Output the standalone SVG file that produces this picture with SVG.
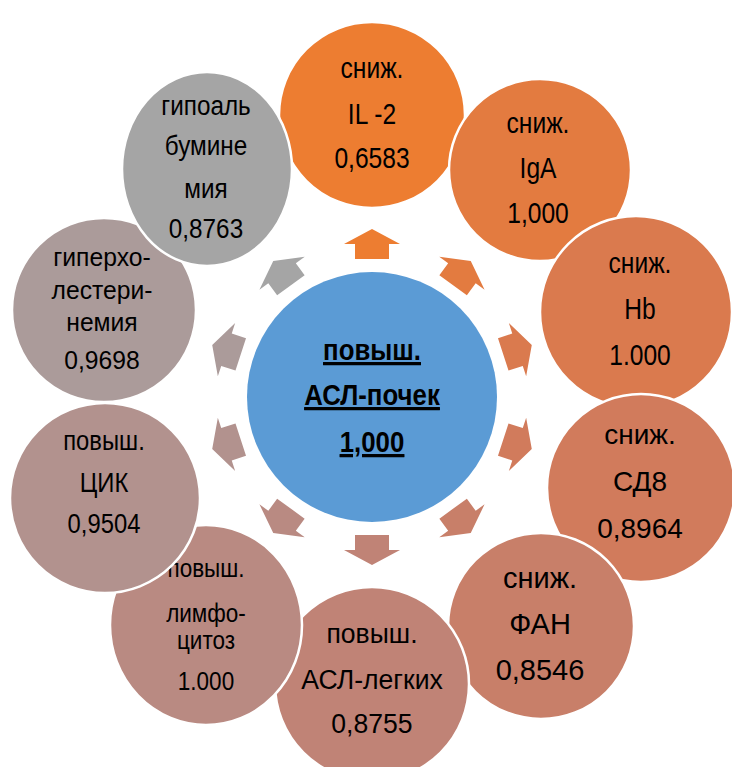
<svg xmlns="http://www.w3.org/2000/svg" width="732" height="767" viewBox="0 0 732 767">
<defs>
<polygon id="arr" points="510,380 525,380 525,369 540,397 525,425 525,414 510,414"/>
</defs>
<style>
.c{stroke:#fff;stroke-width:2.5}
text{font-family:"Liberation Sans",Arial,sans-serif;fill:#000;text-anchor:middle}
.b{font-weight:bold;text-decoration:underline}
</style>
<rect width="732" height="767" fill="#fff"/>
<g id="connectors">
<use href="#arr" transform="rotate(-90 372 397)" fill="#ED7D31"/>
<use href="#arr" transform="rotate(-54 372 397)" fill="#E37B40"/>
<use href="#arr" transform="rotate(-18 372 397)" fill="#DA7A4E"/>
<use href="#arr" transform="rotate(18 372 397)" fill="#D17B5C"/>
<use href="#arr" transform="rotate(54 372 397)" fill="#C87F69"/>
<use href="#arr" transform="rotate(90 372 397)" fill="#C08376"/>
<use href="#arr" transform="rotate(126 372 397)" fill="#B98A82"/>
<use href="#arr" transform="rotate(162 372 397)" fill="#B2928E"/>
<use href="#arr" transform="rotate(198 372 397)" fill="#AB9B9A"/>
<use href="#arr" transform="rotate(234 372 397)" fill="#A5A5A5"/>
</g>
<g id="center">
<circle cx="372" cy="397" r="125" fill="#5B9BD5"/>
<g transform="translate(372 0) scale(0.86 1)" font-size="30" class="b">
<text x="0" y="360" class="b">повыш.</text>
<text x="0" y="405" class="b">АСЛ-почек</text>
<text x="0" y="452" class="b">1,000</text>
</g>
</g>
<g id="n1">
<circle class="c" cx="372" cy="115" r="93" fill="#ED7D31"/>
<g transform="translate(372 0) scale(0.82 1)" font-size="30">
<text x="0" y="78">сниж.</text><text x="0" y="124">IL -2</text><text x="0" y="168">0,6583</text>
</g>
</g>
<g id="n2">
<circle class="c" cx="540" cy="170" r="91" fill="#E37B40"/>
<g transform="translate(538 0) scale(0.82 1)" font-size="30">
<text x="0" y="133">сниж.</text><text x="0" y="178">IgA</text><text x="0" y="223">1,000</text>
</g>
</g>
<g id="n3">
<circle class="c" cx="636" cy="312" r="96" fill="#DA7A4E"/>
<g transform="translate(640 0) scale(0.82 1)" font-size="30">
<text x="0" y="273">сниж.</text><text x="0" y="319">Hb</text><text x="0" y="365">1.000</text>
</g>
</g>
<g id="n4">
<circle class="c" cx="641" cy="488" r="94" fill="#D17B5C"/>
<g transform="translate(640 0)" font-size="28">
<text x="0" y="444">сниж.</text><text x="0" y="491">СД8</text><text x="0" y="538">0,8964</text>
</g>
</g>
<g id="n5">
<circle class="c" cx="541" cy="626" r="93" fill="#C87F69"/>
<g transform="translate(540 0)" font-size="29">
<text x="0" y="588">сниж.</text><text x="0" y="634">ФАН</text><text x="0" y="680">0,8546</text>
</g>
</g>
<g id="n6">
<circle class="c" cx="372" cy="684" r="97" fill="#C08376"/>
<g transform="translate(372 0) scale(0.95 1)" font-size="28">
<text x="0" y="643">повыш.</text><text x="0" y="689">АСЛ-легких</text><text x="0" y="733">0,8755</text>
</g>
</g>
<g id="n7">
<ellipse class="c" cx="206" cy="625" rx="96" ry="100" fill="#B98A82"/>
<g transform="translate(206 0) scale(0.9 1)" font-size="25">
<text x="0" y="577">повыш.</text><text x="0" y="622">лимфо-</text><text x="0" y="649">цитоз</text><text x="0" y="690">1.000</text>
</g>
</g>
<g id="n8">
<circle class="c" cx="105" cy="498" r="95" fill="#B2928E"/>
<g transform="translate(104 0) scale(0.85 1)" font-size="28">
<text x="0" y="450">повыш.</text><text x="0" y="492">ЦИК</text><text x="0" y="533">0,9504</text>
</g>
</g>
<g id="n9">
<circle class="c" cx="104" cy="310" r="92" fill="#AB9B9A"/>
<g transform="translate(102 0) scale(0.95 1)" font-size="26">
<text x="0" y="266">гиперхо-</text><text x="0" y="299">лестери-</text><text x="0" y="331">немия</text><text x="0" y="369">0,9698</text>
</g>
</g>
<g id="n10">
<ellipse class="c" cx="207" cy="169" rx="85" ry="97" fill="#A5A5A5"/>
<g transform="translate(206 0) scale(0.9 1)" font-size="27">
<text x="0" y="115">гипоаль</text><text x="0" y="155">бумине</text><text x="0" y="198">мия</text><text x="0" y="238">0,8763</text>
</g>
</g>
</svg>
